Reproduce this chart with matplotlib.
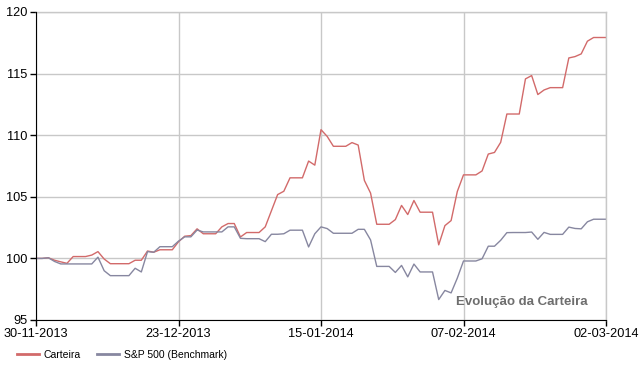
#%%
# Evolução da Carteira vs S&P 500

import pandas as pd
import matplotlib.pyplot as plt
import matplotlib.dates as mdates
from matplotlib.lines import Line2D

plt.rcParams['font.family'] = ['Liberation Sans', 'DejaVu Sans']

#%% Dados (um valor por dia)

datas = pd.date_range('2013-11-30', '2014-03-02', freq='D')

carteira = [100.0, 100.0, 100.05, 99.85, 99.72, 99.6, 100.15, 100.15, 100.15, 100.27,
            100.55, 99.95, 99.57, 99.57, 99.57, 99.57, 99.85, 99.85, 100.6, 100.5,
            100.7, 100.7, 100.7, 101.35, 101.8, 101.85, 102.4, 102.0, 102.0, 102.0,
            102.56, 102.83, 102.83, 101.74, 102.1, 102.1, 102.1, 102.56, 103.87, 105.18,
            105.45, 106.54, 106.54, 106.54, 107.9, 107.57, 110.45, 109.9, 109.1, 109.1,
            109.1, 109.4, 109.2, 106.33, 105.3, 102.77, 102.77, 102.77, 103.15, 104.3,
            103.56, 104.7, 103.75, 103.75, 103.75, 101.1, 102.66, 103.07, 105.43, 106.78,
            106.78, 106.78, 107.1, 108.47, 108.6, 109.42, 111.72, 111.72, 111.72, 114.57,
            114.84, 113.3, 113.67, 113.86, 113.86, 113.86, 116.27, 116.38, 116.6, 117.63,
            117.93, 117.93, 117.93]

benchmark = [100.0, 100.0, 100.05, 99.75, 99.55, 99.55, 99.55, 99.55, 99.55, 99.55,
             100.1, 99.0, 98.6, 98.6, 98.6, 98.6, 99.2, 98.9, 100.55, 100.5,
             100.95, 100.95, 100.95, 101.4, 101.75, 101.75, 102.3, 102.15, 102.15, 102.15,
             102.15, 102.56, 102.56, 101.63, 101.6, 101.6, 101.6, 101.36, 101.96, 101.96,
             102.0, 102.29, 102.29, 102.29, 100.93, 102.0, 102.56, 102.42, 102.04, 102.04,
             102.04, 102.04, 102.36, 102.36, 101.5, 99.35, 99.35, 99.35, 98.86, 99.43,
             98.5, 99.54, 98.9, 98.9, 98.9, 96.66, 97.4, 97.2, 98.4, 99.79,
             99.79, 99.79, 99.97, 100.99, 100.99, 101.47, 102.09, 102.1, 102.1, 102.1,
             102.14, 101.55, 102.11, 101.95, 101.95, 101.95, 102.54, 102.43, 102.4, 102.97,
             103.18, 103.18, 103.18]

datas_ticks = pd.to_datetime(['2013-11-30', '2013-12-23', '2014-01-15', '2014-02-07', '2014-03-02'])

#%% Gráfico

cor_cart = '#d26a6a'
cor_bench = '#8787a0'

fig = plt.figure(figsize=(6.42, 3.67), dpi=100)
ax = fig.add_axes([36/642, 1-320/367, 570/642, 308/367])

ax.plot(datas, carteira, color=cor_cart, lw=1.0)
ax.plot(datas, benchmark, color=cor_bench, lw=1.0)

ax.set_xlim(datas[0], datas[-1])
ax.set_ylim(95, 120)
ax.set_yticks(range(95, 121, 5))
ax.set_xticks(datas_ticks)
ax.xaxis.set_major_formatter(mdates.DateFormatter('%d-%m-%Y'))

ax.grid(True, color='#c8c8c8', lw=1.0)
ax.set_axisbelow(True)
for s in ['top', 'right']:
    ax.spines[s].set_visible(False)
ax.spines['left'].set_color('black')
ax.spines['bottom'].set_color('black')
ax.tick_params(labelsize=9.2, length=4, width=1, color='black', pad=2)

# linhas de grelha de topo e direita (no lugar das molduras)
ax.axhline(120, color='#c8c8c8', lw=1.0, clip_on=False)
ax.axvline(datas[-1], color='#c8c8c8', lw=1.0, clip_on=False)

ax.text(0.967, 0.058, 'Evolução da Carteira', transform=ax.transAxes, ha='right', va='center',
        fontsize=9.5, fontweight='bold', color='#6e6e6e')

red_line = Line2D([], [], color=cor_cart, lw=2, label='Carteira')
blue_line = Line2D([], [], color=cor_bench, lw=2, label='S&P 500 (Benchmark)')
fig.legend(handles=[red_line, blue_line], loc='center left', bbox_to_anchor=(17/642, 1-355/367),
           ncol=2, frameon=False, fontsize=7.5, handlelength=2.1, handletextpad=0.45,
           columnspacing=1.6, borderaxespad=0, borderpad=0)

plt.savefig('out.png', dpi=100)
